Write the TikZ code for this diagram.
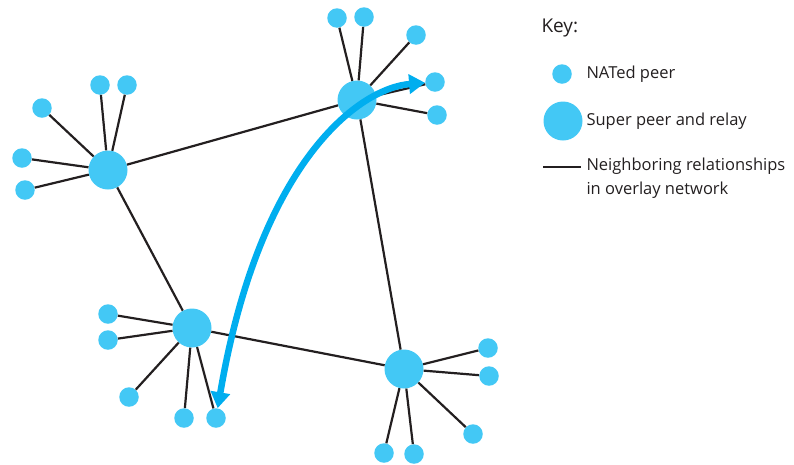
\documentclass[tikz,border=0pt]{standalone}
\usepackage{fontspec}
\setmainfont{Open Sans}
\usetikzlibrary{arrows.meta}
\definecolor{peerblue}{RGB}{67,200,245}
\definecolor{relayblue}{RGB}{0,174,239}
\definecolor{linkgray}{RGB}{35,31,32}
\tikzset{
  peer/.style={circle,fill=peerblue,inner sep=0pt,minimum size=19.5pt},
  superpeer/.style={circle,fill=peerblue,inner sep=0pt,minimum size=39pt},
  link/.style={draw=linkgray,line width=2.2pt},
  keytext/.style={anchor=west,text=linkgray,font=\fontsize{16.5}{24}\selectfont,align=left}
}
\begin{document}
\begin{tikzpicture}[x=1pt,y=-1pt]
	\useasboundingbox (0,0) rectangle (794,464);
	% super peers
	\node[superpeer] (sA) at (108,170) {};
	\node[superpeer] (sB) at (357,100) {};
	\node[superpeer] (sC) at (192,328) {};
	\node[superpeer] (sD) at (404,369) {};
	\draw[link] (sA) -- (sB);
	\draw[link] (sA) -- (sC);
	\draw[link] (sB) -- (sD);
	\draw[link] (sC) -- (sD);
	% NATed peers
	\foreach \x/\y [count=\i] in {42/108,100/85,127/85,22/158,25/190} {
		\node[peer] (pA\i) at (\x,\y) {};
		\draw[link] (sA) -- (pA\i);
	}
	\foreach \x/\y [count=\i] in {337/18,364/17,416/35,435/82,437/115} {
		\node[peer] (pB\i) at (\x,\y) {};
		\draw[link] (sB) -- (pB\i);
	}
	\foreach \x/\y [count=\i] in {108/314,108/340,129/397,184/418,216/418} {
		\node[peer] (pC\i) at (\x,\y) {};
		\draw[link] (sC) -- (pC\i);
	}
	\foreach \x/\y [count=\i] in {488/348,489/376,473/434,384/453,414/454} {
		\node[peer] (pD\i) at (\x,\y) {};
		\draw[link] (sD) -- (pD\i);
	}
	% relayed path
	\draw[relayblue,line width=6.5pt,{Triangle[width=19pt,length=16pt]}-{Triangle[width=19pt,length=16pt]}]
		(pC5) .. controls (260,160) and (360,88) .. (pB4);
	% key
	\node[anchor=west,text=linkgray,font=\fontsize{19}{22}\selectfont] (keyhead) at (538,28) {Key:};
	\node[peer] (keypeer) at (562,74) {};
	\node[superpeer] (keysuper) at (563,121) {};
	\coordinate (keyl) at (543,167);
	\coordinate (keyr) at (581,167);
	\draw[link] (keyl) -- (keyr);
	\node[keytext] (keypeertext) at (583,74) {NATed peer};
	\node[keytext] (keysupertext) at (583,121) {Super peer and relay};
	\node[keytext,anchor=north west] (keylinktext) at (583,154) {Neighboring relationships\\in overlay network};
\end{tikzpicture}
\end{document}
